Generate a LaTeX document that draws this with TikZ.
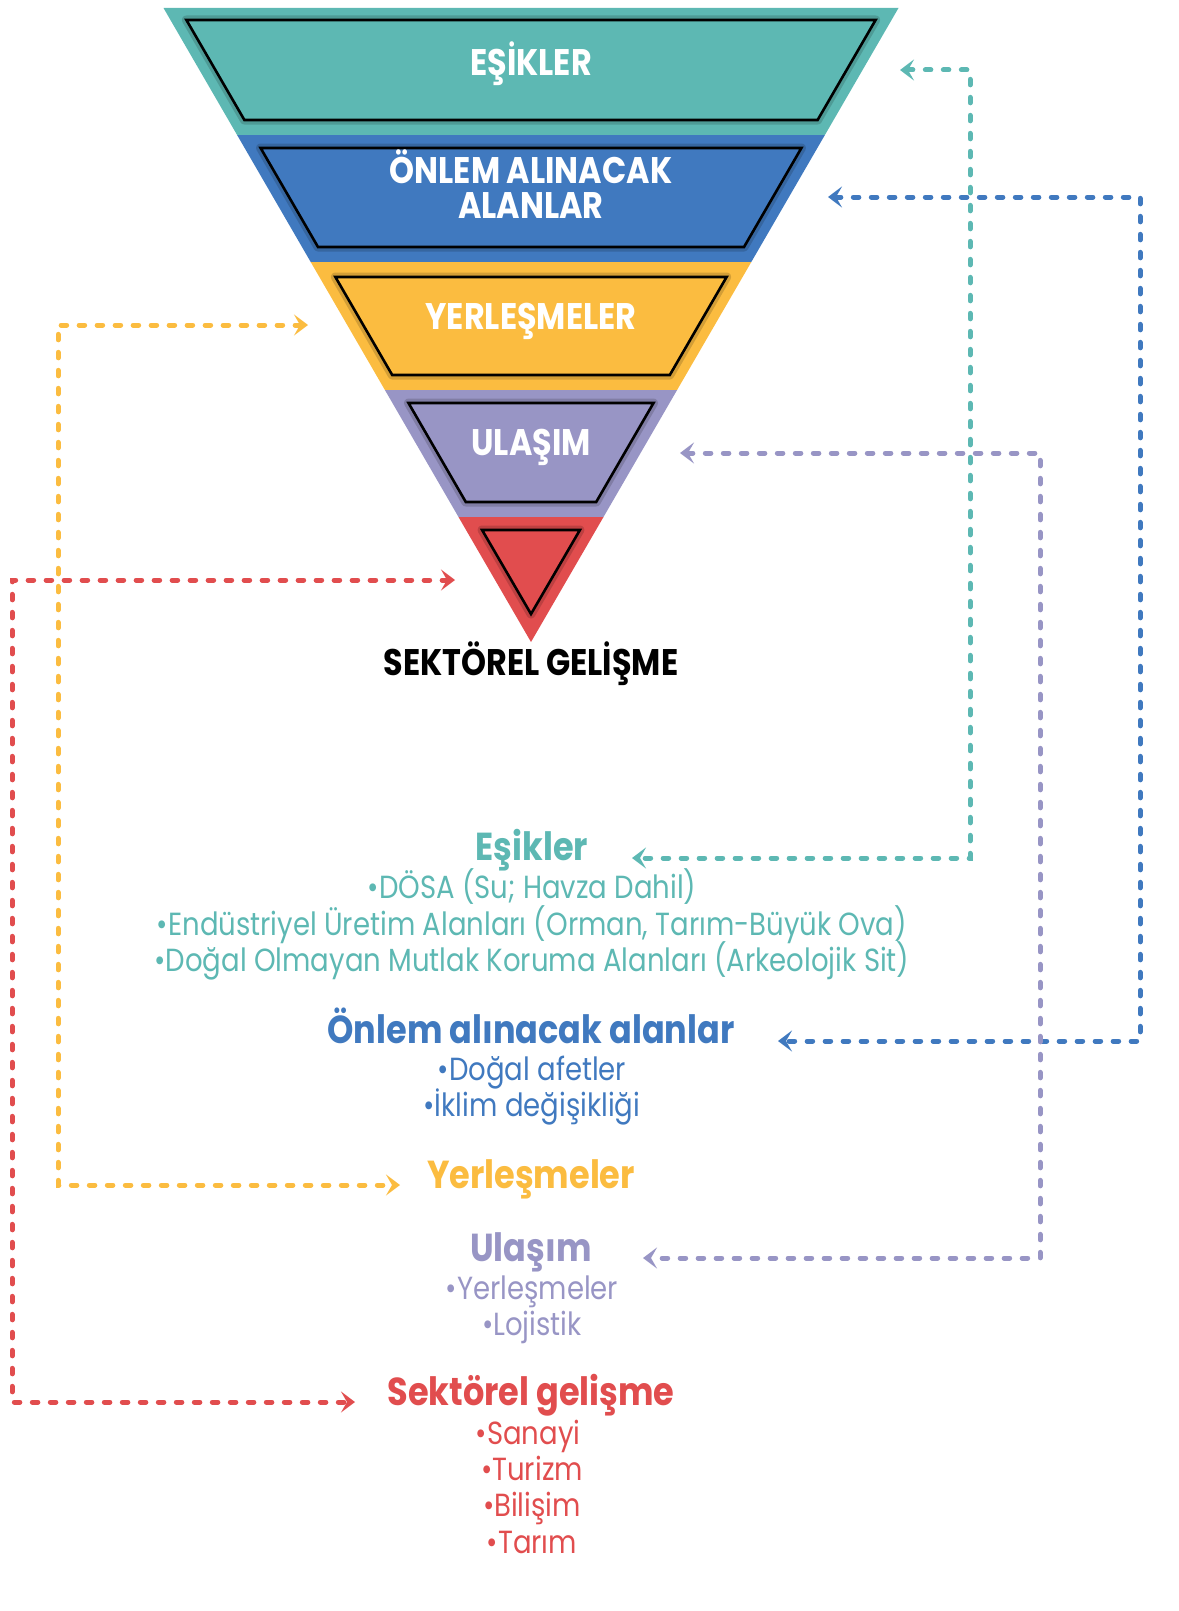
\documentclass[tikz,border=0pt]{standalone}
\usepackage{fontspec}
\setmainfont{Poppins}
\newfontfamily\futura{Poppins}[FakeStretch=0.86]
\usetikzlibrary{arrows.meta}

\definecolor{cesik}{HTML}{5DB8B3}
\definecolor{conlem}{HTML}{4079BF}
\definecolor{cyer}{HTML}{FBBC40}
\definecolor{cula}{HTML}{9895C5}
\definecolor{csek}{HTML}{E14D4E}

\begin{document}
\begin{tikzpicture}[x=1pt,y=-1pt,
    >={Stealth[length=14pt,width=21pt,inset=6pt]},
    band/.style={fill=#1},
    shade/.style={draw=#1!65!black, line width=9pt, opacity=0.45, line join=round},
    frame/.style={fill=#1, draw=black, line width=2.6pt, line join=miter},
    lab/.style={text=white, font=\futura\bfseries\fontsize{37}{37}\selectfont, inner sep=0pt, text height=0.7em, text depth=0pt},
    head/.style={text=#1, font=\futura\bfseries\fontsize{39}{39}\selectfont, inner sep=0pt, text height=0.7em, text depth=0pt},
    item/.style={text=#1, font=\futura\fontsize{32}{32}\selectfont, inner sep=0pt, text height=0.7em, text depth=0pt},
    link/.style={draw=#1, line width=5pt, line cap=round, dash pattern=on 5.5pt off 12.5pt, <->}]
  \useasboundingbox (0,0) rectangle (1178,1611);

  % funnel
  \fill[band=cesik] (163.5,8) -- (898.5,8) -- (824.9,135) -- (237.1,135) -- cycle;
  \fill[band=conlem] (237.1,135) -- (824.9,135) -- (751.3,262) -- (310.7,262) -- cycle;
  \fill[band=cyer] (310.7,262) -- (751.3,262) -- (677.1,390) -- (384.9,390) -- cycle;
  \fill[band=cula] (384.9,390) -- (677.1,390) -- (603.5,517) -- (458.5,517) -- cycle;
  \fill[band=csek] (458.5,517) -- (603.5,517) -- (531,642) -- cycle;

  \draw[shade=cesik] (186.4,20) -- (875.6,20) -- (817.6,120) -- (244.4,120) -- cycle;
  \draw[frame=cesik] (186.4,20) -- (875.6,20) -- (817.6,120) -- (244.4,120) -- cycle;
  \draw[shade=conlem] (260.6,148) -- (801.4,148) -- (744,247) -- (318,247) -- cycle;
  \draw[frame=conlem] (260.6,148) -- (801.4,148) -- (744,247) -- (318,247) -- cycle;
  \draw[shade=cyer] (335.4,277) -- (726.6,277) -- (669.8,375) -- (392.2,375) -- cycle;
  \draw[frame=cyer] (335.4,277) -- (726.6,277) -- (669.8,375) -- (392.2,375) -- cycle;
  \draw[shade=cula] (408.5,403) -- (653.5,403) -- (596.2,502) -- (465.8,502) -- cycle;
  \draw[frame=cula] (408.5,403) -- (653.5,403) -- (596.2,502) -- (465.8,502) -- cycle;
  \draw[shade=csek] (482.1,530) -- (579.9,530) -- (531,614) -- cycle;
  \draw[frame=csek] (482.1,530) -- (579.9,530) -- (531,614) -- cycle;

  \node[lab] (fE) at (531,72) {EŞİKLER};
  \node[lab] (fO1) at (531,180) {ÖNLEM ALINACAK};
  \node[lab] (fO2) at (531,215) {ALANLAR};
  \node[lab] (fY) at (531,326) {YERLEŞMELER};
  \node[lab] (fU) at (531,452) {ULAŞIM};
  \node[lab, text=black] (fS) at (531,672) {SEKTÖREL GELİŞME};

  % lists
  \node[head=cesik] (hE) at (532,857) {Eşikler};
  \node[item=cesik] (e1) at (532,895) {•DÖSA (Su; Havza Dahil)};
  \node[item=cesik] (e2) at (532,932) {•Endüstriyel Üretim Alanları (Orman, Tarım-Büyük Ova)};
  \node[item=cesik] (e3) at (532,968) {•Doğal Olmayan Mutlak Koruma Alanları (Arkeolojik Sit)};

  \node[head=conlem] (hO) at (531,1040) {Önlem alınacak alanlar};
  \node[item=conlem] (o1) at (532,1077) {•Doğal afetler};
  \node[item=conlem] (o2) at (532,1113) {•İklim değişikliği};

  \node[head=cyer] (hY) at (531,1185) {Yerleşmeler};

  \node[head=cula] (hU) at (531,1258) {Ulaşım};
  \node[item=cula] (u1) at (532,1296) {•Yerleşmeler};
  \node[item=cula] (u2) at (532,1332) {•Lojistik};

  \node[head=csek] (hS) at (531,1402) {Sektörel gelişme};
  \node[item=csek] (s1) at (528,1441) {•Sanayi};
  \node[item=csek] (s2) at (532,1477) {•Turizm};
  \node[item=csek] (s3) at (532,1513) {•Bilişim};
  \node[item=csek] (s4) at (532,1550) {•Tarım};

  % links
  \coordinate (aE) at (900,70);
  \coordinate (bE) at (632,858);
  \coordinate (aO) at (828,197);
  \coordinate (bO) at (778,1041);
  \coordinate (aY) at (308,325);
  \coordinate (bY) at (400,1185);
  \coordinate (aU) at (680,453);
  \coordinate (bU) at (643,1258);
  \coordinate (aS) at (455,580);
  \coordinate (bS) at (355,1402);

  \draw[link=cesik] (aE) -| (970,858) -- (bE);
  \draw[link=conlem] (aO) -| (1140,1041) -- (bO);
  \draw[link=cyer] (aY) -| (58,1185) -- (bY);
  \draw[link=cula] (aU) -| (1040,1258) -- (bU);
  \draw[link=csek] (aS) -| (12,1402) -- (bS);
\end{tikzpicture}
\end{document}
